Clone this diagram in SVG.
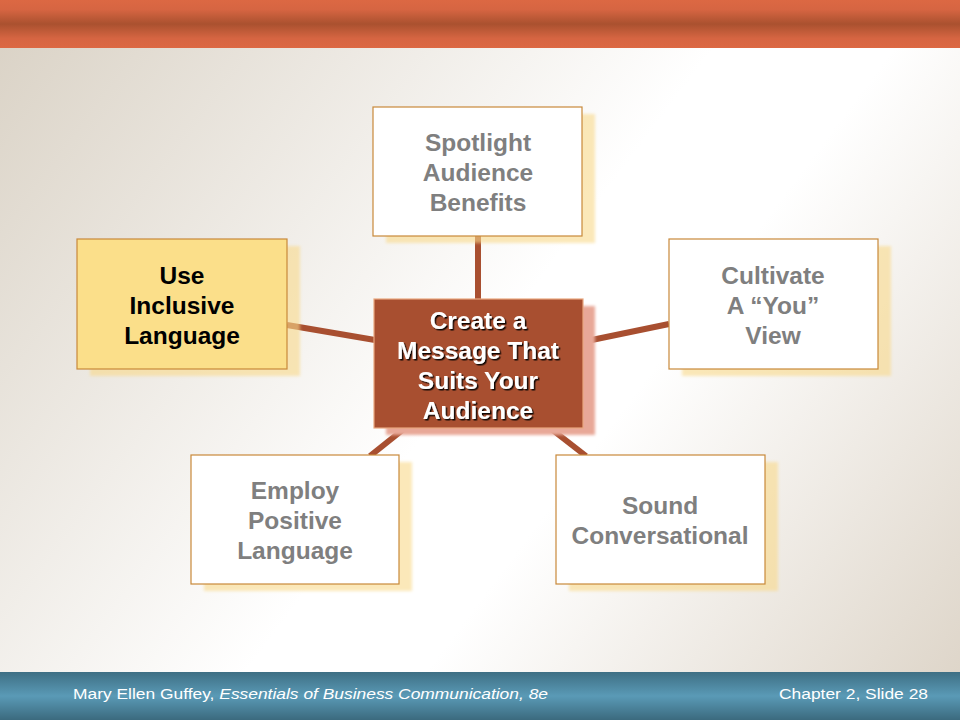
<svg xmlns="http://www.w3.org/2000/svg" width="960" height="720" viewBox="0 0 960 720">
<defs>
<linearGradient id="bg" x1="0" y1="0" x2="960" y2="720" gradientUnits="userSpaceOnUse">
<stop offset="0" stop-color="#D9D1C4"/>
<stop offset="0.5" stop-color="#FFFFFF"/>
<stop offset="0.62" stop-color="#FFFFFF"/>
<stop offset="1" stop-color="#DCD3C6"/>
</linearGradient>
<linearGradient id="top" x1="0" y1="0" x2="0" y2="1">
<stop offset="0" stop-color="#DC6843"/>
<stop offset="0.2" stop-color="#D66542"/>
<stop offset="0.5" stop-color="#AA512F"/>
<stop offset="0.8" stop-color="#D66542"/>
<stop offset="1" stop-color="#DC6843"/>
</linearGradient>
<linearGradient id="bot" x1="0" y1="0" x2="0" y2="1">
<stop offset="0" stop-color="#3E6F84"/>
<stop offset="0.5" stop-color="#5A9AB6"/>
<stop offset="1" stop-color="#3B6A7E"/>
</linearGradient>
<filter id="blur" x="-10%" y="-10%" width="120%" height="120%"><feGaussianBlur stdDeviation="1.5"/></filter>
<filter id="ts" x="-10%" y="-10%" width="120%" height="130%"><feDropShadow dx="1.5" dy="1.5" stdDeviation="0.4" flood-color="#000000" flood-opacity="0.9"/></filter>
</defs>
<style>
.box{fill:#FFFFFF;stroke:#C8893A;stroke-width:1.2}
.sh{fill:#F9D98A;fill-opacity:0.6;filter:url(#blur)}
.t{font-family:"Liberation Sans",Arial,sans-serif;font-weight:bold;font-size:24.5px;text-anchor:middle;fill:#7F7F7F}
.w{fill:#FFFFFF}
.k{fill:#000000}
.con{stroke:#A84F30;stroke-width:6;fill:none}
.ft{font-family:"Liberation Sans",Arial,sans-serif;font-size:15.5px;fill:#FFFFFF}
</style>
<rect x="0" y="0" width="960" height="720" fill="url(#bg)"/>
<rect x="0" y="0" width="960" height="48" fill="url(#top)"/>
<rect x="0" y="672" width="960" height="48" fill="url(#bot)"/>

<g id="connectors">
<line class="con" x1="478" y1="236" x2="478" y2="300"/>
<line class="con" x1="287" y1="325" x2="375" y2="340"/>
<line class="con" x1="582" y1="342" x2="669" y2="324"/>
<line class="con" x1="405" y1="428" x2="370" y2="456"/>
<line class="con" x1="550" y1="428" x2="586" y2="456"/>
</g>

<g id="center">
<rect x="386" y="306" width="209" height="129" fill="#E8A898" filter="url(#blur)"/>
<rect x="374" y="299" width="209" height="129" fill="#A84F30" stroke="#E9A77F" stroke-width="1.2"/>
<g filter="url(#ts)">
<text class="t w" x="478" y="329">Create a</text>
<text class="t w" x="478" y="359">Message That</text>
<text class="t w" x="478" y="389">Suits Your</text>
<text class="t w" x="478" y="419">Audience</text>
</g>
</g>

<g id="spotlight">
<rect class="sh" x="386" y="114" width="209" height="129"/>
<rect class="box" x="373" y="107" width="209" height="129"/>
<text class="t" x="478" y="151">Spotlight</text>
<text class="t" x="478" y="181">Audience</text>
<text class="t" x="478" y="211">Benefits</text>
</g>

<g id="inclusive">
<rect class="sh" x="90" y="246" width="210" height="130"/>
<rect class="box" x="77" y="239" width="210" height="130" style="fill:#FBDF8A"/>
<text class="t k" x="182" y="284">Use</text>
<text class="t k" x="182" y="314">Inclusive</text>
<text class="t k" x="182" y="344">Language</text>
</g>

<g id="cultivate">
<rect class="sh" x="682" y="246" width="209" height="130"/>
<rect class="box" x="669" y="239" width="209" height="130"/>
<text class="t" x="773" y="284">Cultivate</text>
<text class="t" x="773" y="314">A “You”</text>
<text class="t" x="773" y="344">View</text>
</g>

<g id="employ">
<rect class="sh" x="204" y="462" width="208" height="129"/>
<rect class="box" x="191" y="455" width="208" height="129"/>
<text class="t" x="295" y="499">Employ</text>
<text class="t" x="295" y="529">Positive</text>
<text class="t" x="295" y="559">Language</text>
</g>

<g id="sound">
<rect class="sh" x="569" y="462" width="209" height="129"/>
<rect class="box" x="556" y="455" width="209" height="129"/>
<text class="t" x="660" y="514">Sound</text>
<text class="t" x="660" y="544">Conversational</text>
</g>

<text class="ft" x="73" y="699" textLength="475" lengthAdjust="spacingAndGlyphs">Mary Ellen Guffey, <tspan font-style="italic">Essentials of Business Communication,</tspan>  <tspan font-style="italic">8e</tspan></text>
<text class="ft" x="779" y="699" textLength="149" lengthAdjust="spacingAndGlyphs">Chapter  2, Slide 28</text>
</svg>
